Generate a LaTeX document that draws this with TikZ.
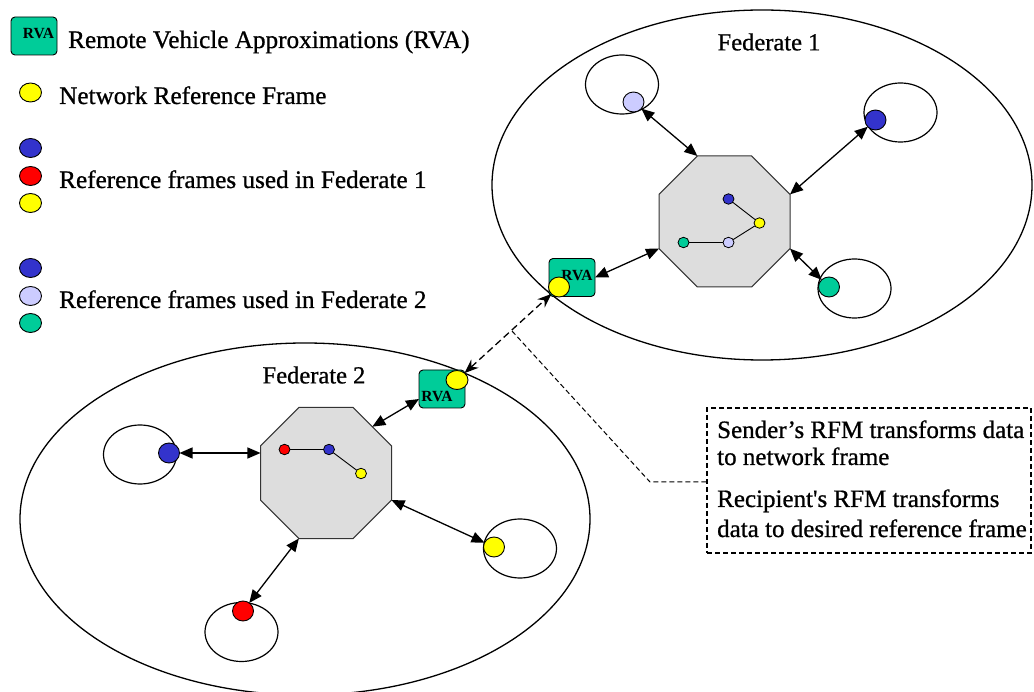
\documentclass[tikz,border=0pt]{standalone}
\usepackage{fontspec}
\setmainfont{Liberation Serif}
\newfontfamily\heavyserif{Liberation Serif}[FakeBold=0.8]
\usetikzlibrary{shapes.geometric,arrows.meta}
\definecolor{rvateal}{RGB}{0,204,153}
\definecolor{rfblue}{RGB}{51,51,204}
\definecolor{rflav}{RGB}{204,204,255}
\definecolor{rfyel}{RGB}{255,255,0}
\definecolor{rfred}{RGB}{255,0,0}
\definecolor{octgray}{RGB}{221,221,221}
\begin{document}
\begin{tikzpicture}[x=1pt,y=-1pt,
  big/.style={draw,ellipse,line width=1.3pt,inner sep=0,outer sep=0},
  sat/.style={draw,ellipse,line width=1.2pt,minimum width=73pt,minimum height=59pt,inner sep=0,outer sep=0},
  dot/.style={draw,ellipse,line width=0.9pt,minimum width=21pt,minimum height=20pt,inner sep=0,outer sep=0},
  ldot/.style={dot,minimum width=22pt,minimum height=19pt},
  sdot/.style={draw,ellipse,line width=0.8pt,minimum width=11pt,minimum height=10.5pt,inner sep=0,outer sep=0},
  oct/.style={draw=black!80,fill=octgray,regular polygon,regular polygon sides=8,minimum size=141.8pt,inner sep=0,outer sep=0,line width=1pt},
  rvabox/.style={draw,fill=rvateal,rounded corners=4pt,minimum width=46pt,minimum height=38pt,inner sep=0,outer sep=0,line width=0.9pt},
  rvatxt/.style={font=\fontsize{15.5}{15.5}\selectfont\bfseries,inner sep=0},
  lab/.style={font=\heavyserif\fontsize{25.2}{29}\selectfont,inner sep=0,anchor=base west},
  clab/.style={font=\heavyserif\fontsize{25}{29}\selectfont,inner sep=0,anchor=base west},
  fedlab/.style={font=\heavyserif\fontsize{24.5}{29}\selectfont,inner sep=0},
  arr/.style={{Triangle[length=13pt,width=11pt]}-{Triangle[length=13pt,width=11pt]},line width=1.3pt},
  darr/.style={{Stealth[length=14pt,width=11pt]}-{Stealth[length=14pt,width=11pt]},line width=1.3pt,dash pattern=on 7pt off 4pt},
  cline/.style={line width=1pt,dash pattern=on 5pt off 3pt},
]
\useasboundingbox (0,0) rectangle (1034,692);

% legend
\node[rvabox] (legbox) at (34,36) {};
\node[rvatxt] (legrva) at (38.5,34) {RVA};
\node[lab] (legt1) at (68,48) {Remote Vehicle Approximations (RVA)};
\node[ldot,fill=rfyel] (ly0) at (30.5,92.5) {};
\node[lab] (legt2) at (59,104) {Network Reference Frame};
\node[ldot,fill=rfblue] (lb1) at (30.5,148) {};
\node[ldot,fill=rfred] (lr1) at (30.5,176) {};
\node[ldot,fill=rfyel] (ly1) at (30.5,203) {};
\node[lab] (legt3) at (59,188) {Reference frames used in Federate 1};
\node[ldot,fill=rfblue] (lb2) at (30.5,268) {};
\node[ldot,fill=rflav] (ll2) at (30.5,296) {};
\node[ldot,fill=rvateal] (lg2) at (30.5,323) {};
\node[lab] (legt4) at (59,308) {Reference frames used in Federate 2};

% federate ellipses
\node[big,minimum width=540pt,minimum height=350pt] (fed1) at (762,185) {};
\node[big,minimum width=570pt,minimum height=352pt] (fed2) at (305,519) {};
\node[fedlab] (f1lab) at (769,42) {Federate 1};
\node[fedlab] (f2lab) at (314,375) {Federate 2};

% Federate 1 satellites
\node[sat] (s1a) at (622,84.5) {};
\node[dot,fill=rflav] (d1a) at (633.5,102) {};
\node[sat] (s1b) at (900.5,112.5) {};
\node[dot,fill=rfblue] (d1b) at (875.5,120) {};
\node[sat] (s1c) at (854.5,288.5) {};
\node[dot,fill=rvateal] (d1c) at (829,287) {};

% Federate 1 octagon
\node[oct] (oct1) at (724.5,221.5) {};
\node[sdot,fill=rfblue] (i1b) at (728.5,199) {};
\node[sdot,fill=rfyel] (i1y) at (759.5,223) {};
\node[sdot,fill=rflav] (i1l) at (728.5,242.5) {};
\node[sdot,fill=rvateal] (i1g) at (683.5,242.5) {};
\draw[line width=0.9pt] (i1b) -- (i1y);
\draw[line width=0.9pt] (i1y) -- (i1l);
\draw[line width=0.9pt] (i1l) -- (i1g);

% Federate 1 RVA
\node[rvabox] (rva1) at (572,277.5) {};
\node[rvatxt] (rva1t) at (577,276) {RVA};
\node[dot,fill=rfyel] (yr1) at (559,287) {};

% Federate 2 satellites
\node[sat] (s2a) at (140,454.5) {};
\node[dot,fill=rfblue] (d2a) at (169,453) {};
\node[sat] (s2b) at (241.5,632) {};
\node[dot,fill=rfred] (d2b) at (243,611) {};
\node[sat] (s2c) at (520,548.5) {};
\node[dot,fill=rfyel] (d2c) at (494,547) {};

% Federate 2 octagon
\node[oct] (oct2) at (326,473) {};
\node[sdot,fill=rfred] (i2r) at (284.5,449.5) {};
\node[sdot,fill=rfblue] (i2b) at (329,449.5) {};
\node[sdot,fill=rfyel] (i2y) at (361,473.5) {};
\draw[line width=0.9pt] (i2r) -- (i2b);
\draw[line width=0.9pt] (i2b) -- (i2y);

% Federate 2 RVA
\node[rvabox] (rva2) at (442,389) {};
\node[rvatxt] (rva2t) at (437,396.5) {RVA};
\node[dot,fill=rfyel,minimum width=22pt,minimum height=19pt] (yr2) at (457,380) {};

% arrows Federate 1
\draw[arr] (d1a) -- (oct1.corner 2);
\draw[arr] (d1b) -- (oct1.corner 8);
\draw[arr] (d1c) -- (oct1.corner 7);
\draw[arr] (rva1.east) -- (oct1.corner 4);

% arrows Federate 2
\draw[arr] (d2a) -- (oct2.west |- d2a);
\draw[arr] (d2b) -- (oct2.corner 5);
\draw[arr] (d2c) -- (oct2.corner 7);
\draw[arr] ([yshift=-10pt]rva2.west) -- (oct2.45);

% network link
\draw[darr] (yr2) -- (yr1);

% callout
\node[draw,cline,line width=1.2pt,minimum width=324pt,minimum height=145pt,inner sep=0] (callout) at (869,480.5) {};
\coordinate (cs) at (512,331);
\coordinate (cb) at (650,482);
\draw[cline] (cs) -- (cb) -- (callout.west |- cb);
\node[clab] (ct1) at (717,438) {Sender’s RFM transforms data};
\node[clab] (ct2) at (717,465) {to network frame};
\node[clab] (ct3) at (717,507) {Recipient\textquotesingle s RFM transforms};
\node[clab] (ct4) at (717,537) {data to desired reference frame};
\end{tikzpicture}
\end{document}
